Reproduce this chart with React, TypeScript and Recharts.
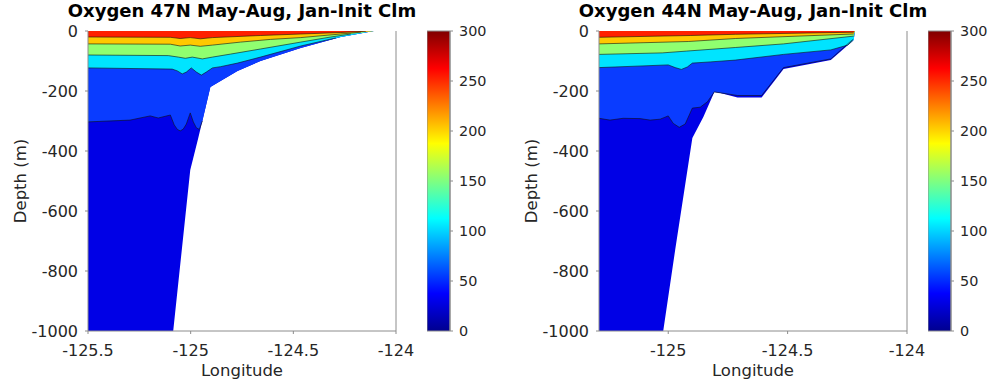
import React from "react";
import { ComposedChart, Area, Line, XAxis, YAxis, BarChart, Bar } from "recharts";

type Pt = { lon: number; d: number };
const toPts = (rows: number[][]): Pt[] => rows.map(([lon, d]) => ({ lon, d }));

const depthTicks = [-1000, -800, -600, -400, -200, 0];
const lonTicks47 = [-125.5, -125, -124.5, -124];
const lonTicks44 = [-125, -124.5, -124];
const cbTicks = [0, 50, 100, 150, 200, 250, 300];
const cbData = [{ name: "O2", v: 300 }];

// band fills, lowest oxygen (deepest) first
const bandColors = ["#0000e6", "#0a3cff", "#00e4ff", "#90ff70", "#ffc800", "#ff2000"];

// 47N section: sea floor and contour lines (lon, depth m)
const bottom47 = toPts([
  [-125.5, -1000], [-125.085, -1000], [-125.002, -463], [-124.963, -357], [-124.904, -187],
  [-124.772, -133], [-124.66, -100], [-124.464, -57], [-124.269, -20], [-124.108, 0],
]);
const c1_47 = toPts([
  [-125.5, -303], [-125.295, -297], [-125.197, -283], [-125.158, -290], [-125.099, -280],
  [-125.08, -313], [-125.065, -328], [-125.051, -333], [-125.036, -327], [-125.021, -310],
  [-125.002, -273], [-124.987, -303], [-124.972, -323], [-124.958, -328], [-124.943, -300],
]);
const c2_47 = toPts([
  [-125.5, -123], [-125.09, -127], [-125.065, -133], [-125.041, -143], [-125.021, -137],
  [-124.997, -123], [-124.972, -137], [-124.948, -147], [-124.924, -137], [-124.894, -123],
  [-124.855, -119], [-124.772, -107], [-124.66, -87], [-124.464, -50], [-124.293, -23],
]);
const c3_47 = toPts([
  [-125.5, -80], [-125.109, -82], [-125.06, -87], [-125.026, -91], [-124.992, -87],
  [-124.943, -93], [-124.894, -87], [-124.806, -77], [-124.66, -60], [-124.464, -37],
  [-124.318, -20], [-124.22, -10],
]);
const c4_47 = toPts([
  [-125.5, -43], [-125.099, -44], [-125.051, -50], [-125.002, -47], [-124.953, -51],
  [-124.894, -47], [-124.757, -37], [-124.611, -28], [-124.464, -22], [-124.269, -10], [-124.171, -4],
]);
const c5_47 = toPts([
  [-125.5, -20], [-125.099, -21], [-125.051, -25], [-125.002, -22], [-124.953, -26],
  [-124.894, -22], [-124.66, -15], [-124.464, -10], [-124.269, -5], [-124.147, -1],
]);

// 44N section
const bottom44 = toPts([
  [-125.29, -1000], [-125.021, -1000], [-124.971, -730], [-124.899, -357], [-124.853, -287],
  [-124.807, -203], [-124.782, -207], [-124.71, -222], [-124.609, -222], [-124.517, -127],
  [-124.319, -97], [-124.223, -30], [-124.219, 0],
]);
const c1_44 = toPts([
  [-125.29, -291], [-125.244, -297], [-125.189, -291], [-125.118, -292], [-125.076, -297],
  [-125.034, -294], [-125.0, -283], [-124.979, -308], [-124.954, -321], [-124.929, -310],
  [-124.912, -280], [-124.899, -257], [-124.866, -254], [-124.836, -236], [-124.807, -203],
  [-124.71, -215], [-124.609, -215], [-124.517, -122], [-124.319, -93], [-124.227, -28],
]);
const c2_44 = toPts([
  [-125.29, -122], [-125.16, -118], [-125.0, -113], [-124.971, -122], [-124.945, -128],
  [-124.92, -120], [-124.899, -107], [-124.824, -103], [-124.719, -97], [-124.517, -78],
  [-124.319, -63], [-124.248, -47], [-124.227, -32],
]);
const c3_44 = toPts([
  [-125.29, -78], [-125.025, -73], [-124.924, -67], [-124.719, -55], [-124.517, -43], [-124.223, -17],
]);
const c4_44 = toPts([[-125.29, -43], [-124.916, -35], [-124.719, -25], [-124.223, -10]]);
const c5_44 = toPts([[-125.29, -21], [-124.908, -15], [-124.719, -11], [-124.223, -4]]);

const jetStops: [number, string][] = [
  [0, "#00008f"], [0.125, "#0000ff"], [0.375, "#00ffff"], [0.625, "#ffff00"], [0.875, "#ff0000"], [1, "#800000"],
];

const font = "DejaVu Sans, Verdana, sans-serif";
const axisColor = "#8c8c8c";
const tickStyle = { fill: "#262626", fontSize: 16, fontFamily: font };

// contour fill: follow the line, then the sea floor once it reaches it
function fillToBottom(contour: Pt[], bottom: Pt[]): Pt[] {
  const last = contour[contour.length - 1].lon;
  return [...contour, ...bottom.filter((p) => p.lon > last)];
}

function Section({ x, domain, lonTicks, bottom, contours }: any) {
  const layers = [bottom, ...contours.map((c: Pt[]) => fillToBottom(c, bottom))];
  return (
    <div style={{ position: "absolute", left: x, top: 0 }}>
      <ComposedChart width={420} height={391} margin={{ top: 31, right: 23, bottom: 0, left: 28 }}>
        {layers.map((data: Pt[], i: number) => (
          <Area key={"a" + i} data={data} dataKey="d" type="linear" fill={bandColors[i]} fillOpacity={1}
            stroke="none" baseValue={0} isAnimationActive={false} />
        ))}
        {contours.map((data: Pt[], i: number) => (
          <Line key={"l" + i} data={data} dataKey="d" type="linear" stroke="#111" strokeWidth={0.6}
            dot={false} isAnimationActive={false} />
        ))}
        <XAxis type="number" dataKey="lon" domain={domain} ticks={lonTicks} allowDataOverflow interval={0}
          height={60} tickSize={3} tickMargin={11} stroke={axisColor} tick={tickStyle} />
        <XAxis xAxisId="top" orientation="top" type="number" dataKey="lon" domain={domain} ticks={lonTicks}
          allowDataOverflow interval={0} height={0} tickSize={3} tick={false} stroke={axisColor} />
        <YAxis type="number" dataKey="d" domain={[-1000, 0]} ticks={depthTicks} allowDataOverflow interval={0}
          width={60} tickSize={3} tickMargin={7} stroke={axisColor} tick={tickStyle} />
        <YAxis yAxisId="right" orientation="right" type="number" domain={[-1000, 0]} ticks={depthTicks}
          allowDataOverflow interval={0} width={1} tickSize={3} tick={false} stroke={axisColor} />
      </ComposedChart>
    </div>
  );
}

function ColorBar({ x, id }: { x: number; id: string }) {
  return (
    <div style={{ position: "absolute", left: x, top: 0 }}>
      <BarChart width={70} height={391} data={cbData} margin={{ top: 31, right: 0, bottom: 60, left: 0 }} barCategoryGap={0}>
        <defs>
          <linearGradient id={id} x1="0" y1="1" x2="0" y2="0">
            {jetStops.map(([o, c]) => <stop key={o} offset={o} stopColor={c} />)}
          </linearGradient>
        </defs>
        <XAxis dataKey="name" hide />
        <YAxis orientation="right" type="number" domain={[0, 300]} ticks={cbTicks} interval={0} width={47}
          tickSize={3} tickMargin={6} stroke={axisColor} tick={{ ...tickStyle, fontSize: 14.4 }} />
        <Bar dataKey="v" fill={`url(#${id})`} stroke={axisColor} isAnimationActive={false} />
      </BarChart>
    </div>
  );
}

function Texts({ cx, title }: { cx: number; title: string }) {
  return (
    <>
      <div style={{ position: "absolute", left: cx - 300, top: 3, width: 600, textAlign: "center", fontFamily: font,
        fontWeight: "bold", fontSize: 18, lineHeight: "15px", whiteSpace: "nowrap", color: "#000" }}>{title}</div>
      <div style={{ position: "absolute", left: cx - 200, top: 361, width: 400, textAlign: "center", fontFamily: font,
        fontSize: 16.5, lineHeight: "20px", color: "#262626" }}>Longitude</div>
      <div style={{ position: "absolute", left: cx - 221, top: 181, fontFamily: font, fontSize: 16.5, lineHeight: "20px",
        color: "#262626", whiteSpace: "nowrap", transform: "translate(-50%, -50%) rotate(-90deg)" }}>Depth (m)</div>
    </>
  );
}

export default function App() {
  return (
    <div style={{ position: "absolute", left: 0, top: 0, width: 1000, height: 391, background: "#fff", overflow: "hidden" }}>
      <Section x={0} domain={[-125.5, -124]} lonTicks={lonTicks47} bottom={bottom47}
        contours={[c1_47, c2_47, c3_47, c4_47, c5_47]} />
      <ColorBar x={427} id="jet47" />
      <Texts cx={242} title="Oxygen 47N May-Aug, Jan-Init Clm" />
      <Section x={511} domain={[-125.29, -124]} lonTicks={lonTicks44} bottom={bottom44}
        contours={[c1_44, c2_44, c3_44, c4_44, c5_44]} />
      <ColorBar x={928} id="jet44" />
      <Texts cx={753} title="Oxygen 44N May-Aug, Jan-Init Clm" />
    </div>
  );
}
